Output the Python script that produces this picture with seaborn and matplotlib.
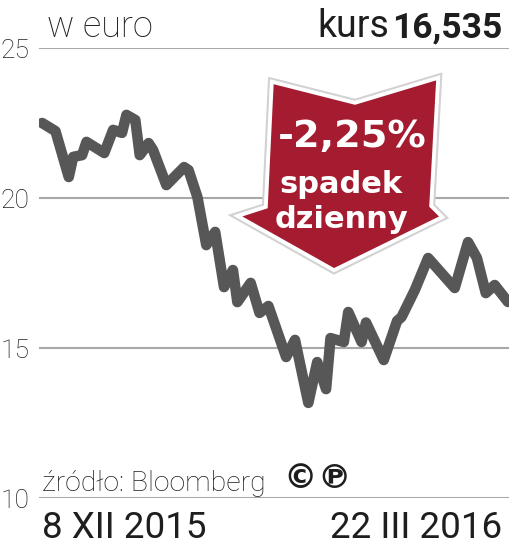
import matplotlib
matplotlib.use("Agg")
import matplotlib.pyplot as plt
import matplotlib.patheffects as pe
from matplotlib.patches import Polygon
import pandas as pd
import seaborn as sns

# kurs w euro, 8 XII 2015 - 22 III 2016
dates = [
    "2015-12-08", "2015-12-11", "2015-12-14", "2015-12-15", "2015-12-17", "2015-12-18",
    "2015-12-22", "2015-12-24", "2015-12-26", "2015-12-27", "2015-12-29", "2015-12-30",
    "2016-01-01", "2016-01-02", "2016-01-05", "2016-01-09", "2016-01-10", "2016-01-12",
    "2016-01-14", "2016-01-16", "2016-01-18", "2016-01-20", "2016-01-21", "2016-01-24",
    "2016-01-26", "2016-01-28", "2016-02-01", "2016-02-03", "2016-02-06", "2016-02-08",
    "2016-02-10", "2016-02-11", "2016-02-14", "2016-02-15", "2016-02-18", "2016-02-19",
    "2016-02-23", "2016-02-26", "2016-02-27", "2016-03-01", "2016-03-04", "2016-03-10",
    "2016-03-13", "2016-03-15", "2016-03-17", "2016-03-19", "2016-03-22",
]
price = [
    22.50, 22.23, 20.70, 21.37, 21.43, 21.87,
    21.50, 22.27, 22.17, 22.77, 22.60, 21.43,
    21.83, 21.60, 20.43, 21.03, 20.93, 20.03,
    18.43, 18.87, 17.03, 17.60, 16.53, 17.17,
    16.17, 16.40, 14.70, 15.27, 13.17, 14.53,
    13.63, 15.33, 15.20, 16.20, 15.20, 15.85,
    14.60, 15.90, 16.03, 16.93, 18.00, 17.00,
    18.53, 18.00, 16.83, 17.10, 16.535,
]
y_ticks = [10, 15, 20, 25]
start_label = "8 XII 2015"
end_label = "22 III 2016"
unit_label = "w euro"
last_price = "16,535"
change_label = "-2,25%"
change_text = ["spadek", "dzienny"]
source_label = "źródło: Bloomberg"
rights_label = ["©", "℗"]

df = pd.DataFrame({"date": pd.to_datetime(dates), "price": price})

sns.set_theme(style="white")
plt.rcParams["font.family"] = ["Roboto", "DejaVu Sans"]

W, H = 510, 549
fig = plt.figure(figsize=(W / 100, H / 100), dpi=100)
ax = fig.add_axes([39 / W, 51 / H, 471 / W, 450 / H])


def fx(px):
    return px / W


def fy(py):
    return 1 - py / H


sns.lineplot(data=df, x="date", y="price", ax=ax, color="#575757", lw=7.6,
             solid_joinstyle="round", solid_capstyle="round", zorder=3)

ax.set_ylim(10, 25)
ax.set_xlim(df["date"].iloc[0] - pd.Timedelta(hours=17),
            df["date"].iloc[-1] + pd.Timedelta(hours=11))
ax.set_yticks(y_ticks)
ax.set_xticks([])
ax.set_xlabel("")
ax.set_ylabel("")
ax.yaxis.grid(True, color="#a8a8a8", lw=1.5)
ax.set_axisbelow(True)
for s in ax.spines.values():
    s.set_visible(False)
ax.tick_params(axis="y", length=0, pad=7, labelsize=19, labelcolor="#1e1e1e")
for t in ax.get_yticklabels():
    t.set_fontweight("light")
    t.set_clip_on(False)

# header
fig.text(fx(47), fy(37), unit_label, fontsize=26, fontweight="light",
         color="#1e1e1e", va="baseline", ha="left")
fig.text(fx(389), fy(37), "kurs", fontsize=27, color="#1e1e1e",
         va="baseline", ha="right")
fig.text(fx(502), fy(37), last_price, fontsize=25.5, fontweight="bold",
         color="#1e1e1e", va="baseline", ha="right")

# footer
fig.text(fx(42), fy(491), source_label, fontsize=20.5, fontweight="light",
         color="#1e1e1e", va="baseline", ha="left")
for i, sym in enumerate(rights_label):
    fig.text(fx(300 + 34 * i), fy(478), sym, fontsize=24, fontweight="bold",
             family=["DejaVu Sans", "Noto Sans"], color="#1e1e1e",
             va="center", ha="center")
fig.text(fx(42), fy(538), start_label, fontsize=26.5,
         color="#1e1e1e", va="baseline", ha="left")
fig.text(fx(502), fy(538), end_label, fontsize=26.5,
         color="#1e1e1e", va="baseline", ha="right")

# red arrow with daily change
arrow_px = [(272, 82), (355, 103), (438, 78), (431, 206), (442, 217),
            (334, 270), (238, 216), (266, 207)]
arrow = Polygon([(fx(x), fy(y)) for x, y in arrow_px], closed=True,
                transform=fig.transFigure, facecolor="#a51c30",
                edgecolor="white", lw=2.5, joinstyle="miter", zorder=5)
arrow.set_path_effects([pe.Stroke(linewidth=6, foreground="#d2d2d2"),
                        pe.Stroke(linewidth=3, foreground="white"),
                        pe.Normal()])
fig.add_artist(arrow)

fig.text(fx(352), fy(147), change_label, fontsize=27.5, fontweight="bold",
         family=["DejaVu Sans"], color="white", va="baseline", ha="center", zorder=6)
fig.text(fx(341), fy(193), change_text[0], fontsize=22, fontweight="bold",
         family=["DejaVu Sans"], color="white", va="baseline", ha="center", zorder=6)
fig.text(fx(342), fy(228), change_text[1], fontsize=22, fontweight="bold",
         family=["DejaVu Sans"], color="white", va="baseline", ha="center", zorder=6)

fig.savefig("out.png", dpi=100)
